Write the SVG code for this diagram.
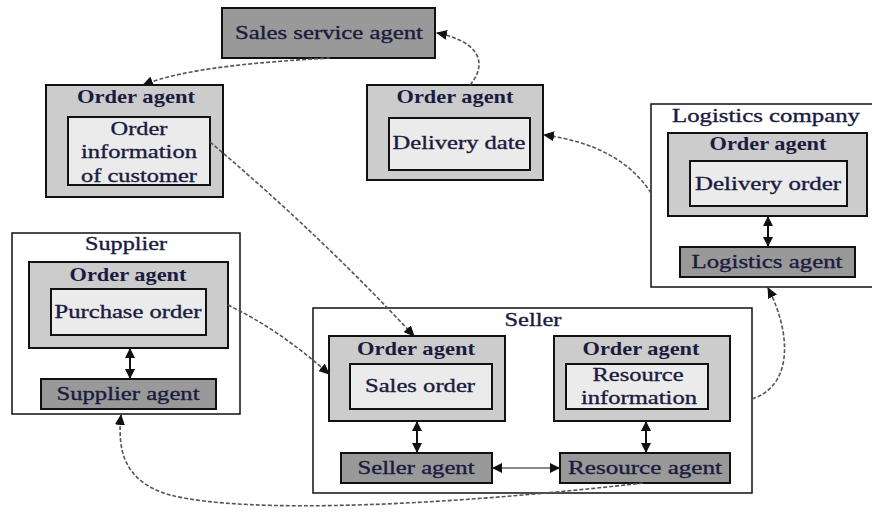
<svg xmlns="http://www.w3.org/2000/svg" width="872" height="515" viewBox="0 0 872 515">
<style>
  .t{font-family:"Liberation Serif","Times New Roman",serif;font-size:19px;fill:#1b1b3e;stroke:#1b1b3e;stroke-width:0.35;text-anchor:middle}
  .b{font-weight:bold;stroke-width:0}
  .cont{fill:#ffffff;stroke:#111;stroke-width:1.5}
  .oa{fill:#cccccc;stroke:#111;stroke-width:2}
  .in{fill:#ebebeb;stroke:#111;stroke-width:2}
  .ag{fill:#999999;stroke:#111;stroke-width:2}
  .dash{fill:none;stroke:#555;stroke-width:1.6;stroke-dasharray:4 2}
  .bi{fill:none;stroke:#111;stroke-width:2}
  .big{fill:none;stroke:#888;stroke-width:2}
</style>
<defs>
  <marker id="ah" markerUnits="userSpaceOnUse" markerWidth="11" markerHeight="10" refX="10" refY="5" orient="auto">
    <path d="M0,0 L11,5 L0,10 z" fill="#111"/>
  </marker>
  <marker id="ah2" markerUnits="userSpaceOnUse" markerWidth="10" markerHeight="10" refX="9" refY="5" orient="auto-start-reverse">
    <path d="M0,0 L10,5 L0,10 z" fill="#111"/>
  </marker>
</defs>
<rect width="872" height="515" fill="#ffffff"/>

<g id="sales-service-agent">
  <rect class="ag" x="222" y="8" width="213" height="50"/>
  <text class="t" x="329" y="39" textLength="188" lengthAdjust="spacingAndGlyphs">Sales service agent</text>
</g>

<g id="order-agent-customer">
  <rect class="oa" x="46" y="85" width="177" height="112"/>
  <text class="t b" x="136" y="103" textLength="118" lengthAdjust="spacingAndGlyphs">Order agent</text>
  <rect class="in" x="68" y="117" width="142" height="68"/>
  <text class="t" x="139" y="135" textLength="57" lengthAdjust="spacingAndGlyphs">Order</text>
  <text class="t" x="139" y="158" textLength="116" lengthAdjust="spacingAndGlyphs">information</text>
  <text class="t" x="139" y="182" textLength="116" lengthAdjust="spacingAndGlyphs">of customer</text>
</g>

<g id="order-agent-delivery-date">
  <rect class="oa" x="367" y="85" width="176" height="95"/>
  <text class="t b" x="455" y="103" textLength="117" lengthAdjust="spacingAndGlyphs">Order agent</text>
  <rect class="in" x="389" y="118" width="141" height="52"/>
  <text class="t" x="459" y="149" textLength="133" lengthAdjust="spacingAndGlyphs">Delivery date</text>
</g>

<g id="logistics-company">
  <rect class="cont" x="651" y="104" width="224" height="183"/>
  <text class="t" x="766" y="122" textLength="188" lengthAdjust="spacingAndGlyphs">Logistics company</text>
  <g id="logistics-order-agent">
    <rect class="oa" x="668" y="133" width="199" height="83"/>
    <text class="t b" x="768" y="150" textLength="117" lengthAdjust="spacingAndGlyphs">Order agent</text>
    <rect class="in" x="690" y="161" width="157" height="45"/>
    <text class="t" x="768" y="190" textLength="146" lengthAdjust="spacingAndGlyphs">Delivery order</text>
  </g>
  <g id="logistics-agent">
    <rect class="ag" x="680" y="247" width="175" height="30"/>
    <text class="t" x="767" y="268" textLength="151" lengthAdjust="spacingAndGlyphs">Logistics agent</text>
  </g>
</g>

<g id="supplier">
  <rect class="cont" x="12" y="233" width="228" height="181"/>
  <text class="t" x="126" y="250" textLength="82" lengthAdjust="spacingAndGlyphs">Supplier</text>
  <g id="supplier-order-agent">
    <rect class="oa" x="29" y="262" width="199" height="86"/>
    <text class="t b" x="128" y="281" textLength="117" lengthAdjust="spacingAndGlyphs">Order agent</text>
    <rect class="in" x="51" y="289" width="155" height="46"/>
    <text class="t" x="128" y="318" textLength="147" lengthAdjust="spacingAndGlyphs">Purchase order</text>
  </g>
  <g id="supplier-agent">
    <rect class="ag" x="41" y="379" width="175" height="30"/>
    <text class="t" x="128" y="400" textLength="143" lengthAdjust="spacingAndGlyphs">Supplier agent</text>
  </g>
</g>

<g id="seller">
  <rect class="cont" x="313" y="308" width="439" height="185"/>
  <text class="t" x="533" y="326" textLength="57" lengthAdjust="spacingAndGlyphs">Seller</text>
  <g id="seller-order-agent">
    <rect class="oa" x="329" y="336" width="176" height="85"/>
    <text class="t b" x="416" y="355" textLength="118" lengthAdjust="spacingAndGlyphs">Order agent</text>
    <rect class="in" x="350" y="364" width="142" height="45"/>
    <text class="t" x="420" y="392" textLength="110" lengthAdjust="spacingAndGlyphs">Sales order</text>
  </g>
  <g id="resource-order-agent">
    <rect class="oa" x="554" y="336" width="176" height="85"/>
    <text class="t b" x="641" y="355" textLength="117" lengthAdjust="spacingAndGlyphs">Order agent</text>
    <rect class="in" x="566" y="364" width="142" height="45"/>
    <text class="t" x="638" y="381" textLength="91" lengthAdjust="spacingAndGlyphs">Resource</text>
    <text class="t" x="639" y="404" textLength="116" lengthAdjust="spacingAndGlyphs">information</text>
  </g>
  <g id="seller-agent">
    <rect class="ag" x="341" y="453" width="151" height="30"/>
    <text class="t" x="416" y="474" textLength="117" lengthAdjust="spacingAndGlyphs">Seller agent</text>
  </g>
  <g id="resource-agent">
    <rect class="ag" x="560" y="453" width="170" height="30"/>
    <text class="t" x="645" y="474" textLength="154" lengthAdjust="spacingAndGlyphs">Resource agent</text>
  </g>
</g>

<g id="connectors">
  <path class="dash" d="M470,85 C487,65 482,42 437,33" marker-end="url(#ah)"/>
  <path class="dash" d="M330,58 C260,62 185,68 143,85" marker-end="url(#ah)"/>
  <path class="dash" d="M210,142 Q320,235 414,336" marker-end="url(#ah)"/>
  <path class="dash" d="M228,305 Q280,330 329,374" marker-end="url(#ah)"/>
  <path class="dash" d="M651,193 Q620,145 544,135" marker-end="url(#ah)"/>
  <path class="dash" d="M752,399 C795,385 790,330 768,288" marker-end="url(#ah)"/>
  <path class="dash" d="M643,483 C450,505 250,515 170,495 C125,482 117,452 121,415" marker-end="url(#ah)"/>
  <path class="bi" d="M768,217 L768,246" marker-start="url(#ah2)" marker-end="url(#ah2)"/>
  <path class="bi" d="M130,349 L130,378" marker-start="url(#ah2)" marker-end="url(#ah2)"/>
  <path class="bi" d="M417,422 L417,452" marker-start="url(#ah2)" marker-end="url(#ah2)"/>
  <path class="bi" d="M646,422 L646,452" marker-start="url(#ah2)" marker-end="url(#ah2)"/>
  <path class="big" d="M493,468 L559,468" marker-start="url(#ah2)" marker-end="url(#ah2)"/>
</g>
</svg>
